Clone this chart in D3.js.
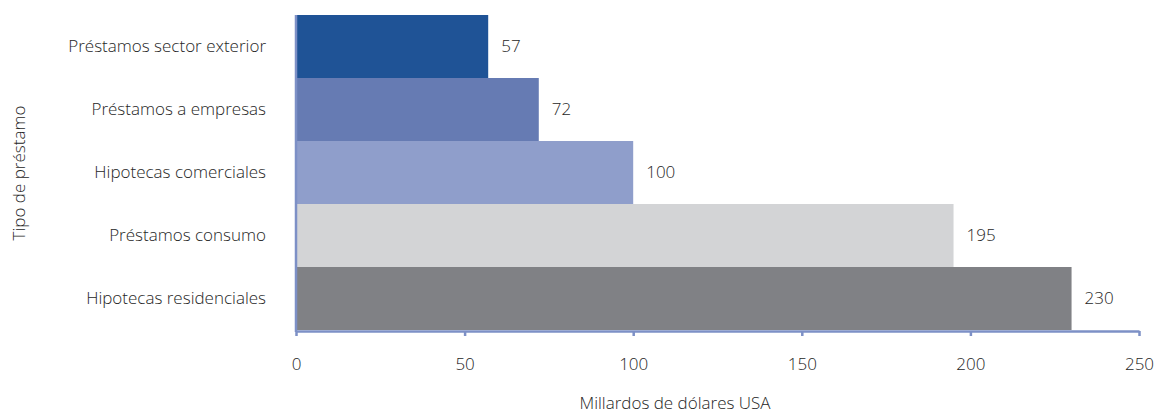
<!DOCTYPE html>
<html><head><meta charset="utf-8">
<script src="https://cdn.jsdelivr.net/npm/d3@7"></script>
<style>body{margin:0;background:#fff}svg text{font-family:"Open Sans","Noto Sans",sans-serif;fill:#262626;font-weight:300}</style>
</head><body><svg id="c" width="1156" height="414"></svg>
<script>
const categories = ["Préstamos sector exterior","Préstamos a empresas","Hipotecas comerciales","Préstamos consumo","Hipotecas residenciales"];
const values = [57,72,100,195,230];
const colors = ["#1f5396","#667bb3","#8f9ecb","#d3d4d6","#808185"];
const xTicks = [0,50,100,150,200,250];
const xTitle = "Millardos de dólares USA";
const yTitle = "Tipo de préstamo";

const svg = d3.select("#c");
const m = {l:296, r:1139, t:15, b:330};
const x = d3.scaleLinear().domain([0,250]).range([m.l, m.r]);
const y = d3.scaleBand().domain(categories).range([m.t, m.b]).padding(0);
const axisColor = "#7d90c6";
const fs = 17;
const tc = "#262626";

svg.selectAll("rect.bar").data(values).join("rect")
  .attr("class","bar")
  .attr("x", x(0)+1)
  .attr("y",(d,i)=>y(categories[i]))
  .attr("width",d=>x(d)-x(0)-1)
  .attr("height",y.bandwidth())
  .attr("fill",(d,i)=>colors[i]);

svg.selectAll("text.val").data(values).join("text")
  .attr("class","val")
  .attr("x",d=>x(d)+13)
  .attr("y",(d,i)=>y(categories[i])+y.bandwidth()/2)
  .attr("dy","0.35em")
  .attr("font-size",fs)
  .text(d=>d);

// y axis
const ya = svg.append("g").attr("transform",`translate(${m.l},0)`)
  .call(d3.axisLeft(y).tickSize(0).tickPadding(30));
ya.select(".domain").attr("stroke",axisColor).attr("stroke-width",2.5).attr("d",`M0,${m.t}V${m.b+2}`);
ya.selectAll("text").attr("font-size",fs).attr("fill",tc).style("font-family","'Open Sans','Noto Sans',sans-serif").style("font-weight",300);

// x axis
const xa = svg.append("g").attr("transform",`translate(0,${m.b+1})`)
  .call(d3.axisBottom(x).tickValues(xTicks).tickSize(5).tickPadding(22).tickSizeOuter(0));
xa.select(".domain").attr("stroke",axisColor).attr("stroke-width",2.5);
xa.selectAll(".tick line").attr("stroke",axisColor).attr("stroke-width",2.5);
xa.selectAll("text").attr("font-size",fs).attr("fill",tc).style("font-family","'Open Sans','Noto Sans',sans-serif").style("font-weight",300);

svg.append("text").attr("x",675).attr("y",409).attr("text-anchor","middle")
  .attr("font-size",fs).text(xTitle);
svg.append("text").attr("transform",`translate(25,173) rotate(-90)`)
  .attr("text-anchor","middle").attr("font-size",fs).text(yTitle);
</script></body></html>
